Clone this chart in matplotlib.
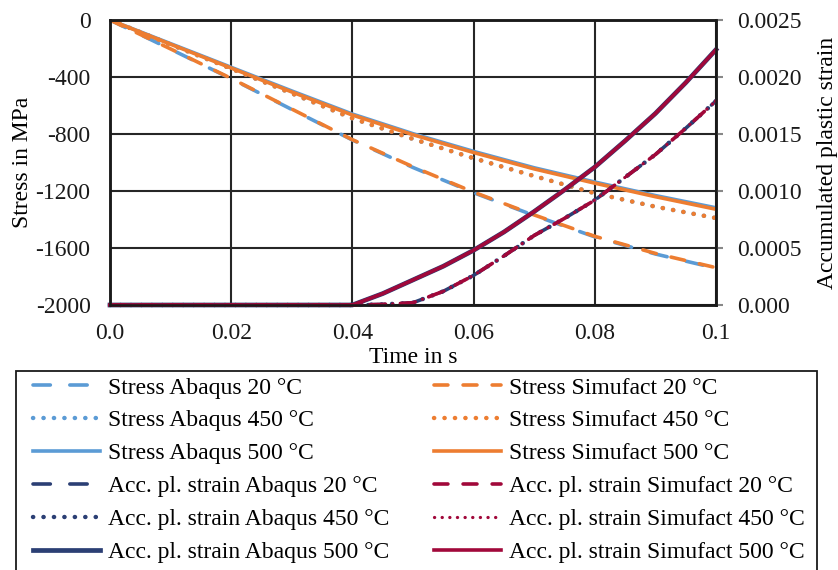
import matplotlib
matplotlib.use("Agg")
import matplotlib.pyplot as plt
from matplotlib.patches import Rectangle

plt.rcParams['font.family'] = ['Liberation Serif', 'DejaVu Serif']

# ---- data ----
t_stress = [0.0, 0.01, 0.02, 0.03, 0.04, 0.05, 0.06, 0.07, 0.08, 0.09, 0.10]
stress_abaqus_20 = [0, -205, -412, -628, -842, -1035, -1212, -1372, -1522, -1642, -1742]
stress_simufact_20 = [0, -203, -410, -625, -840, -1030, -1208, -1368, -1518, -1638, -1738]
stress_abaqus_450 = [0, -172, -342, -515, -690, -835, -970, -1095, -1216, -1310, -1390]
stress_simufact_450 = [0, -172, -342, -515, -690, -835, -970, -1095, -1216, -1310, -1390]
stress_abaqus_500 = [0, -166, -332, -498, -660, -798, -922, -1037, -1137, -1232, -1318]
stress_simufact_500 = [0, -170, -337, -505, -667, -805, -930, -1045, -1145, -1240, -1328]

t_strain = [0.0, 0.04, 0.045, 0.05, 0.055, 0.06, 0.065, 0.07, 0.075, 0.08, 0.085, 0.09, 0.095, 0.10]
strain_20 = [0, 0, 0.000005, 0.00002, 0.00012, 0.00026, 0.00043, 0.00061, 0.00076, 0.00092,
             0.00112, 0.00132, 0.00155, 0.00179]
strain_450 = [0, 0, 0.000005, 0.00002, 0.00012, 0.00026, 0.00043, 0.00061, 0.00076, 0.00092,
              0.00112, 0.00132, 0.00155, 0.00179]
strain_500 = [0, 0, 0.0001, 0.00022, 0.00034, 0.00048, 0.00064, 0.00082, 0.00101, 0.00121,
              0.00144, 0.00168, 0.00195, 0.00224]

x_ticks = [0.0, 0.02, 0.04, 0.06, 0.08, 0.1]
x_ticklabels = ["0.0", "0.02", "0.04", "0.06", "0.08", "0.1"]
y1_ticks = [0, -400, -800, -1200, -1600, -2000]
y2_ticks = [0.0025, 0.0020, 0.0015, 0.0010, 0.0005, 0.0]
y2_ticklabels = ["0.0025", "0.0020", "0.0015", "0.0010", "0.0005", "0.000"]

# ---- style ----
BLUE = '#5B9BD5'
ORANGE = '#ED7D31'
NAVY = '#2B3F74'
CRIMSON = '#A1083A'
LW = 2.6
LWD = 3.2
FS = 17
dash_a = (0, (4.8, 5.4))
dash_s = (0, (3.85, 4.2))
dot = (0, (0.05, 2.3))

fig = plt.figure(figsize=(8.38, 5.70), dpi=100)
ax1 = fig.add_axes([110/838, 1-305/570, 606/838, 285/570])
ax2 = ax1.twinx()

h = {}
h['sa20'], = ax1.plot(t_stress, stress_abaqus_20, color=BLUE, lw=LW, ls=dash_a,
                      dash_capstyle='round', label='Stress Abaqus 20 °C')
h['sa450'], = ax1.plot(t_stress, stress_abaqus_450, color=BLUE, lw=LWD, ls=dot,
                       dash_capstyle='round', label='Stress Abaqus 450 °C')
h['sa500'], = ax1.plot(t_stress, stress_abaqus_500, color=BLUE, lw=LW, ls='-',
                       label='Stress Abaqus 500 °C')
h['ss20'], = ax1.plot(t_stress, stress_simufact_20, color=ORANGE, lw=LW, ls=dash_s,
                      dash_capstyle='round', label='Stress Simufact 20 °C')
h['ss450'], = ax1.plot(t_stress, stress_simufact_450, color=ORANGE, lw=LWD, ls=dot,
                       dash_capstyle='round', label='Stress Simufact 450 °C')
h['ss500'], = ax1.plot(t_stress, stress_simufact_500, color=ORANGE, lw=LW, ls='-',
                       label='Stress Simufact 500 °C')

h['ea20'], = ax2.plot(t_strain, strain_20, color=NAVY, lw=LW, ls=dash_a,
                      dash_capstyle='round', clip_on=False, label='Acc. pl. strain Abaqus 20 °C')
h['ea450'], = ax2.plot(t_strain, strain_450, color=NAVY, lw=LWD, ls=dot,
                       dash_capstyle='round', clip_on=False, label='Acc. pl. strain Abaqus 450 °C')
h['ea500'], = ax2.plot(t_strain, strain_500, color=NAVY, lw=LW + 0.8, ls='-',
                       clip_on=False, label='Acc. pl. strain Abaqus 500 °C')
h['es20'], = ax2.plot(t_strain, strain_20, color=CRIMSON, lw=LW, ls=dash_s,
                      dash_capstyle='round', clip_on=False, label='Acc. pl. strain Simufact 20 °C')
h['es450'], = ax2.plot(t_strain, strain_450, color=CRIMSON, lw=LW * 0.9, ls=dot,
                       dash_capstyle='round', clip_on=False, label='Acc. pl. strain Simufact 450 °C')
h['es500'], = ax2.plot(t_strain, strain_500, color=CRIMSON, lw=LW, ls='-',
                       clip_on=False, label='Acc. pl. strain Simufact 500 °C')

ax1.set_xlim(0, 0.1)
ax1.set_ylim(-2000, 0)
ax2.set_ylim(0, 0.0025)

ax1.set_xticks(x_ticks)
ax1.set_xticklabels(x_ticklabels, fontsize=FS)
ax1.set_yticks(y1_ticks)
ax1.set_yticklabels([str(v) for v in y1_ticks], fontsize=FS)
ax2.set_yticks(y2_ticks)
ax2.set_yticklabels(y2_ticklabels, fontsize=FS)

ax1.grid(True, color='#262626', lw=1.5)
ax1.set_axisbelow(True)
ax1.tick_params(axis='x', length=0, pad=13, colors='#1a1a1a')
ax1.tick_params(axis='y', length=0, pad=14, colors='#1a1a1a')
ax2.tick_params(axis='y', length=5, width=1.5, color='#888888', pad=10, labelcolor='#1a1a1a')
for ax in (ax1, ax2):
    for s in ax.spines.values():
        s.set_color('#1a1a1a')
        s.set_linewidth(1.8)

ax1.set_xlabel('Time in s', fontsize=FS, labelpad=2)
ax1.set_ylabel('Stress in MPa', fontsize=FS, labelpad=2)
ax2.set_ylabel('Accumulated plastic strain', fontsize=FS, labelpad=11)

# legend frame (cut off at the bottom edge, as in the reference)
top = 1 - 371/570
fig.patches.append(Rectangle((16/838, -0.1), 801/838, top + 0.1, transform=fig.transFigure,
                             fill=False, edgecolor='#1a1a1a', lw=1.3))

order = ['sa20', 'sa450', 'sa500', 'ea20', 'ea450', 'ea500',
         'ss20', 'ss450', 'ss500', 'es20', 'es450', 'es500']
handles = [h[k] for k in order]
leg = fig.legend(handles, [x.get_label() for x in handles], ncol=2,
                 loc='upper left', bbox_to_anchor=(33/838, 0, (805-33)/838, 1-377/570),
                 mode='expand', borderaxespad=0, fontsize=FS, frameon=False,
                 handlelength=2.84, handletextpad=0.34, labelspacing=0.48, borderpad=0)

fig.savefig('out.png', dpi=100)
